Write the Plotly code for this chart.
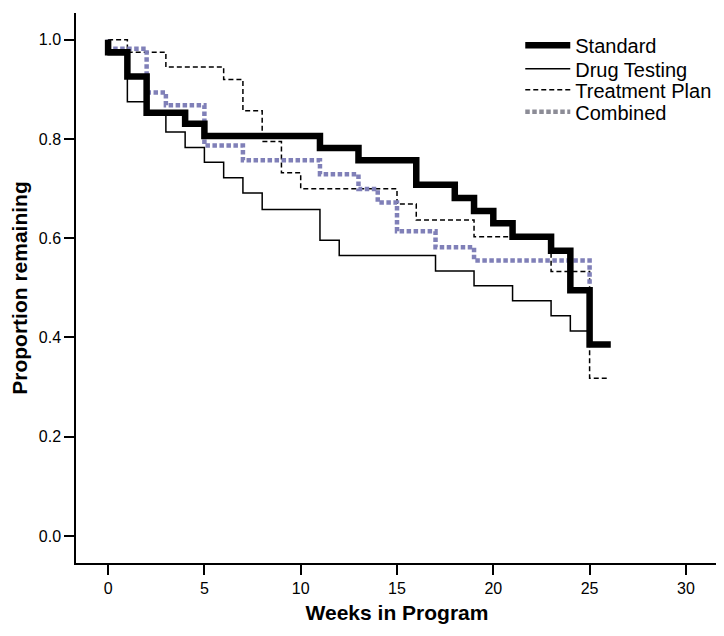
import plotly.graph_objects as go

# ---- data (Kaplan-Meier style step curves: event weeks and proportion remaining) ----
std_weeks = [0, 0, 1, 2, 4, 5, 11, 13, 16, 18, 19, 20, 21, 23, 24, 25, 26.1]
std_prop = [1.0, 0.975, 0.926, 0.853, 0.831, 0.806, 0.782, 0.757, 0.708, 0.681, 0.655, 0.630, 0.603, 0.575, 0.495, 0.386, 0.386]

drug_weeks = [0, 0, 1, 2, 3, 4, 5, 6, 7, 8, 11, 12, 17, 19, 21, 23, 24, 25]
drug_prop = [1.0, 0.97, 0.875, 0.848, 0.814, 0.783, 0.753, 0.722, 0.691, 0.658, 0.596, 0.565, 0.534, 0.504, 0.474, 0.444, 0.413, 0.413]

plan_weeks = [0, 1, 3, 6, 7, 8, 9, 10, 15, 16, 19, 23, 25, 26]
plan_prop = [1.0, 0.975, 0.945, 0.920, 0.857, 0.795, 0.732, 0.700, 0.669, 0.637, 0.603, 0.533, 0.318, 0.318]

comb_weeks = [0, 0, 2, 3, 5, 7, 11, 13, 14, 15, 17, 19, 25]
comb_prop = [1.0, 0.982, 0.894, 0.868, 0.787, 0.757, 0.729, 0.699, 0.672, 0.614, 0.582, 0.555, 0.504]

series_names = ["Standard", "Drug Testing", "Treatment Plan", "Combined"]
x_ticks = [0, 5, 10, 15, 20, 25, 30]
y_ticks = [0.0, 0.2, 0.4, 0.6, 0.8, 1.0]

# ---- styles ----
FONT = "Liberation Sans, Arial, Helvetica, sans-serif"
COMB_COLOR = "rgb(128,128,184)"
styles = {
    "Standard": dict(color="black", width=6.5, dash="solid"),
    "Drug Testing": dict(color="black", width=1.5, dash="solid"),
    "Treatment Plan": dict(color="black", width=1.5, dash="5px,3px"),
    "Combined": dict(color=COMB_COLOR, width=4.5, dash="4.5px,2.5px"),
}
legend_styles = {
    "Standard": dict(color="black", width=6.5, dash="solid"),
    "Drug Testing": dict(color="black", width=1.5, dash="solid"),
    "Treatment Plan": dict(color="black", width=1.5, dash="5px,3px"),
    "Combined": dict(color="rgb(140,140,150)", width=4.5, dash="4.5px,2.5px"),
}
legend_ids = ["legend", "legend2", "legend3", "legend4"]
legend_rows_y = [0.9415, 0.8985, 0.8603, 0.8205]

fig = go.Figure()

data = {
    "Drug Testing": (drug_weeks, drug_prop),
    "Treatment Plan": (plan_weeks, plan_prop),
    "Combined": (comb_weeks, comb_prop),
    "Standard": (std_weeks, std_prop),
}
for name in ["Drug Testing", "Treatment Plan", "Combined", "Standard"]:
    xs, ys = data[name]
    fig.add_trace(go.Scatter(
        x=xs, y=ys, mode="lines", line_shape="hv",
        line=styles[name], name=name, showlegend=False, hoverinfo="skip",
    ))

# legend-only entries, one legend per row for tight spacing
for name, lid in zip(series_names, legend_ids):
    fig.add_trace(go.Scatter(
        x=[None], y=[None], mode="lines", line=legend_styles[name], name=name,
        showlegend=True, legend=lid,
    ))

legend_common = dict(
    x=0.692, xanchor="left", yanchor="middle",
    bgcolor="rgba(0,0,0,0)", borderwidth=0,
    font=dict(family=FONT, size=20, color="black"),
    itemwidth=45,
)
legend_layouts = {lid: dict(legend_common, y=yy) for lid, yy in zip(legend_ids, legend_rows_y)}

fig.update_layout(
    width=716, height=628,
    margin=dict(l=68, r=6, t=5, b=73),
    paper_bgcolor="white", plot_bgcolor="white",
    font=dict(family=FONT, size=16, color="black"),
    showlegend=True,
    xaxis=dict(
        range=[-1.667, 31.667], tickvals=x_ticks, ticktext=[str(v) for v in x_ticks],
        showline=True, linecolor="black", linewidth=1.5,
        ticks="outside", ticklen=10, tickwidth=1.5, tickcolor="black",
        showgrid=False, zeroline=False,
        tickfont=dict(family=FONT, size=16),
        title=dict(text="<b>Weeks in Program</b>", font=dict(family=FONT, size=21), standoff=9),
        automargin=False,
    ),
    yaxis=dict(
        range=[-0.0546, 1.054], tickvals=y_ticks, tickformat=".1f",
        showline=True, linecolor="black", linewidth=1.5,
        ticks="outside", ticklen=10, tickwidth=1.5, tickcolor="black",
        showgrid=False, zeroline=False,
        tickfont=dict(family=FONT, size=16),
        title=dict(text="<b>Proportion remaining</b>", font=dict(family=FONT, size=21), standoff=8),
        automargin=False,
    ),
    **legend_layouts,
)

fig.write_html("out.html")
